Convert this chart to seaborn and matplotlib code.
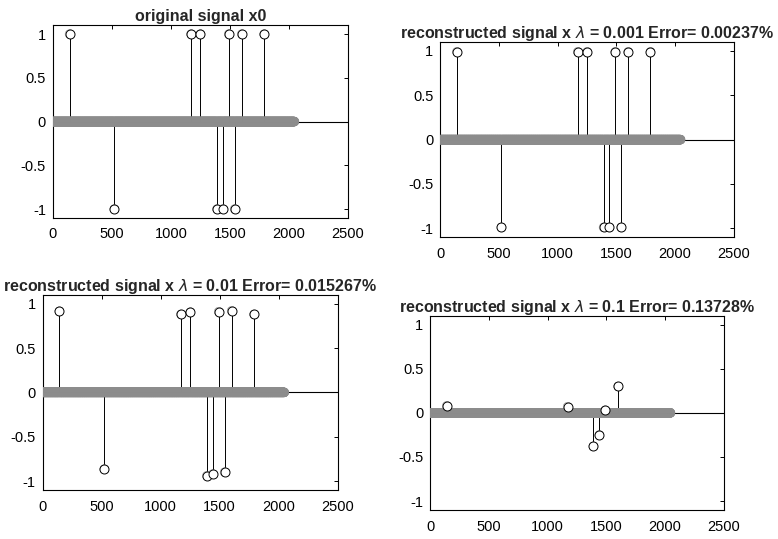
import numpy as np
import pandas as pd
import matplotlib
matplotlib.use("Agg")
import matplotlib.pyplot as plt
import seaborn as sns

# Sparse test signal: length, support and spike amplitudes
n_samples = 2048
spike_pos = [140, 520, 1170, 1250, 1390, 1440, 1490, 1540, 1600, 1790]

x0_vals = [1.0, -1.0, 1.0, 1.0, -1.0, -1.0, 1.0, -1.0, 1.0, 1.0]
x_l0001_vals = [0.99, -0.99, 0.99, 0.99, -0.99, -0.99, 0.99, -0.99, 0.99, 0.99]
x_l001_vals = [0.915, -0.865, 0.88, 0.905, -0.94, -0.92, 0.91, -0.90, 0.92, 0.88]
x_l01_vals = [0.08, 0.0, 0.07, 0.0, -0.38, -0.25, 0.03, 0.0, 0.30, 0.0]

titles = [
    "original signal x0",
    r"reconstructed signal x $\lambda$ = 0.001 Error= 0.00237%",
    r"reconstructed signal x $\lambda$ = 0.01 Error= 0.015267%",
    r"reconstructed signal x $\lambda$ = 0.1 Error= 0.13728%",
]

x_ticks = [0, 500, 1000, 1500, 2000, 2500]
y_ticks = [-1, -0.5, 0, 0.5, 1]
y_tick_labels = ["-1", "-0.5", "0", "0.5", "1"]

sns.set_theme(style="white")
plt.rcParams["font.family"] = ["Liberation Sans", "DejaVu Sans"]
plt.rcParams["mathtext.fontset"] = "dejavusans"

fig = plt.figure(figsize=(7.78, 5.39), dpi=100)
fig.patch.set_facecolor("white")

# axes rectangles [left, bottom, width, height] in figure fractions
rects = [
    [0.068, 0.596, 0.379, 0.357],
    [0.566, 0.560, 0.377, 0.362],
    [0.055, 0.091, 0.379, 0.362],
    [0.553, 0.054, 0.377, 0.360],
]

for vals, title, rect in zip([x0_vals, x_l0001_vals, x_l001_vals, x_l01_vals], titles, rects):
    ax = fig.add_axes(rect)
    sig = np.zeros(n_samples)
    sig[spike_pos] = vals
    df = pd.DataFrame({"n": np.arange(1, n_samples + 1), "value": sig})
    spikes = df.iloc[spike_pos]
    spikes = spikes[spikes["value"] != 0]

    # baseline and stems
    ax.axhline(0, color="black", lw=0.8, zorder=1)
    ax.vlines(spikes["n"], 0, spikes["value"], color="black", lw=0.7, zorder=2)

    # every sample as an open circle (forms the dense band at zero)
    sns.scatterplot(data=df, x="n", y="value", ax=ax, marker="o", s=40,
                    facecolor="none", edgecolor="0.55", linewidth=0.4, zorder=3,
                    legend=False)
    # nonzero coefficients on top
    sns.scatterplot(data=spikes, x="n", y="value", ax=ax, marker="o", s=42,
                    facecolor="white", edgecolor="black", linewidth=0.7, zorder=4,
                    legend=False)

    ax.set_xlim(0, 2500)
    ax.set_ylim(-1.1, 1.1)
    ax.set_xticks(x_ticks)
    ax.set_xticklabels([str(t) for t in x_ticks])
    ax.set_yticks(y_ticks)
    ax.set_yticklabels(y_tick_labels)
    ax.set_xlabel("")
    ax.set_ylabel("")
    ax.tick_params(direction="in", length=3, width=0.7, top=True, right=True,
                   labelsize=10.5, colors="black")
    ax.tick_params(axis="x", pad=7)
    ax.tick_params(axis="y", pad=5)
    for sp in ax.spines.values():
        sp.set_visible(True)
        sp.set_color("black")
        sp.set_linewidth(0.8)
    ax.set_title(title, fontsize=11.5, fontweight="bold", pad=3)

fig.savefig("out.png", dpi=100, facecolor="white")
